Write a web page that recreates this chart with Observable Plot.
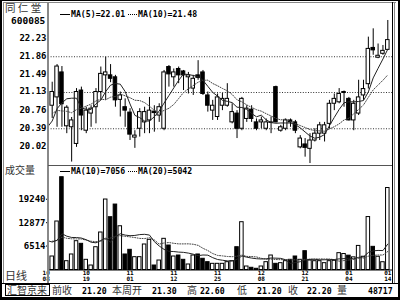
<!DOCTYPE html>
<html><head><meta charset="utf-8">
<script src="https://cdn.jsdelivr.net/npm/d3@7"></script>
<script src="https://cdn.jsdelivr.net/npm/@observablehq/plot@0.6"></script>
<style>
html,body{margin:0;padding:0;background:#fff}
#wrap{position:relative;width:400px;height:300px;overflow:hidden;background:#fff}
#wrap > div{position:absolute}
.t{white-space:pre;line-height:1}
.cjk{font-family:"Noto Sans CJK SC",sans-serif;color:#333}
.num{font-family:"DejaVu Sans Mono",monospace;font-weight:bold;color:#000}
</style></head>
<body><div id="wrap"></div>
<script>
// ---- data ----
const stockName = "同仁堂";
const stockCode = "600085";
const dates = ["10-08","10-11","10-12","10-13","10-14","10-15","10-18","10-19","10-20","10-21","10-22","10-25","10-26","10-27","10-28","10-29",
"11-01","11-02","11-03","11-04","11-05","11-08","11-09","11-10","11-11","11-12","11-15","11-16","11-17","11-18","11-19","11-22","11-23","11-24","11-25","11-26","11-29","11-30",
"12-01","12-02","12-03","12-06","12-07","12-08","12-09","12-10","12-13","12-14","12-15","12-16","12-17","12-20","12-21","12-22","12-23","12-24","12-27","12-28","12-29","12-30","12-31",
"01-04","01-05","01-06","01-07","01-10","01-11","01-12","01-13","01-14"];
const open = [20.86,21.03,21.54,20.44,20.42,20.08,21.17,20.35,20.70,20.83,
21.14,21.48,21.48,21.44,20.98,20.83,20.72,20.21,20.39,20.52,
20.56,20.74,20.66,20.39,21.65,21.44,21.61,21.56,21.44,21.21,
21.48,21.54,21.07,20.76,20.63,20.86,20.86,20.52,20.70,20.39,
20.59,20.78,20.52,20.52,20.39,20.51,21.24,20.35,20.39,20.56,
20.52,20.01,20.07,19.98,20.15,20.29,20.29,20.49,20.90,20.93,
21.12,21.00,20.56,20.70,21.07,21.30,22.04,21.84,21.92,22.00];
const high = [21.34,21.70,21.66,20.86,20.62,21.21,21.24,20.83,20.86,21.21,
21.65,21.85,21.70,21.48,21.14,21.00,20.80,20.35,20.80,20.83,
21.03,20.86,20.90,21.58,21.68,21.61,21.65,21.58,21.54,21.48,
21.78,21.58,21.14,20.97,21.10,21.11,21.31,20.90,20.76,21.03,
20.86,20.86,20.59,20.63,20.59,20.63,21.26,20.46,20.59,20.59,
20.56,20.25,20.19,20.29,20.39,20.52,20.52,20.97,21.10,21.21,
21.16,21.03,20.97,21.38,21.38,22.26,22.43,22.12,22.09,22.60];
const low = [20.60,20.42,20.42,20.29,19.71,20.01,20.35,20.29,20.42,20.49,
20.97,20.97,21.33,20.83,20.63,20.42,20.15,19.99,20.22,20.29,
20.29,20.32,20.52,20.35,21.24,21.24,21.31,21.17,21.10,21.07,
21.38,21.07,20.73,20.56,20.56,20.76,20.83,20.49,20.19,20.35,
20.52,20.52,20.35,20.39,20.35,20.29,20.51,20.32,20.35,20.42,
20.29,19.98,19.81,19.68,20.12,20.15,20.12,20.39,20.76,20.90,
20.83,20.55,20.35,20.66,20.97,21.20,21.89,21.82,21.89,21.99];
const close = [21.14,21.66,20.89,20.82,20.56,21.14,20.66,20.76,20.80,21.14,
21.51,21.54,21.41,20.97,21.07,20.76,20.27,20.25,20.73,20.73,
20.76,20.71,20.83,21.54,21.50,21.54,21.48,21.48,21.48,21.41,
21.43,21.10,20.86,20.86,21.03,21.00,21.00,20.73,20.39,21.00,
20.80,20.59,20.39,20.56,20.52,20.52,20.52,20.42,20.56,20.52,
20.35,20.19,20.00,20.15,20.29,20.46,20.46,20.90,21.00,21.10,
21.14,20.56,20.90,21.03,21.20,22.02,21.99,21.88,21.98,22.20];
const volume = [3670,13190,25240,2400,4220,7840,7120,2770,1220,6200,
10200,19170,14360,17800,11900,4220,5490,3490,3490,6940,
8210,1220,2580,8480,6660,3670,3940,2770,1500,3940,
4220,3050,2130,1680,1680,1680,2130,2400,6200,13000,
950,600,330,950,2130,3940,1680,1860,2400,2770,
3670,2770,5120,2580,2400,2400,1860,2400,2500,4580,
4350,3900,3440,6550,3603,14400,6300,3600,2117,22300];
// closes / volumes just before the window (estimated from where the MA lines enter)
const priorCloses = [21.00,21.00,20.90,20.85,20.50,20.40,20.30,20.40,20.50];
const priorVolumes = [8200,7600,9100,6900,8400,7800,8800,7200,8600,7900,8300,7500,9000,7700,8100,8500,7300,8000,7900];
const priceTicks = [22.23,21.86,21.49,21.13,20.76,20.39,20.02];
const priceGrid = [21.86,21.13,20.39];
const volTicks = [19240,12877,6514];
const dateLabels = ["10-08","10-19","11-01","11-12","11-25","12-08","12-21","01-04","01-14"];
const priceLegend = ["MA(5)=22.01","MA(10)=21.48"];
const volLegend = ["MA(10)=7056","MA(20)=5042"];
const footerLabels = ["前收","本周开","高","低","收","量"];
const footerValues = ["21.20","21.30","22.60","21.20","22.20","48717"];
const brand = "汇智京来";

// ---- build ----
const wrap = document.getElementById("wrap");
const candles = dates.map((d,i)=>({i, d, o:open[i], h:high[i], l:low[i], c:close[i], v:volume[i], up: close[i] >= open[i]}));
const ups = candles.filter(d=>d.up), downs = candles.filter(d=>!d.up);
function movingAvg(prior, vals, n){
  const all = prior.concat(vals), out = [];
  for (let k = prior.length - 1; k < all.length; k++) {
    if (k - n + 1 < 0) continue;
    let s = 0; for (let j = k - n + 1; j <= k; j++) s += all[j];
    out.push({i: k - prior.length, v: s / n});
  }
  return out;
}
const ma5 = movingAvg(priorCloses, close, 5), ma10 = movingAvg(priorCloses, close, 10);
const vma10 = movingAvg(priorVolumes, volume, 10), vma20 = movingAvg(priorVolumes, volume, 20);
const xDomain = [-0.76, 70.17];
const hw = 0.36;
const fontMono = {fontFamily:"DejaVu Sans Mono", fontWeight:"bold"};
const dateIdx = dateLabels.map(l=>dates.indexOf(l));
const fmtDate = i=>dates[i].replace("-","\n");

const price = Plot.plot({
  width: 400, height: 165, marginLeft: 48, marginRight: 7, marginTop: 5, marginBottom: 0,
  style: {background:"transparent", fontFamily:"DejaVu Sans Mono", fontWeight:"bold", fontSize:"9px", color:"#000"},
  x: {domain: xDomain, axis: null, label: null},
  y: {domain: [19.64, 22.906], axis: null, label: null},
  marks: [
    Plot.ruleY(priceGrid, {stroke:"#333", strokeDasharray:"1,1.6", strokeWidth:1}),
    Plot.ruleX(candles, {x:"i", y1:"l", y2:"h", stroke:"#000", strokeWidth:1}),
    Plot.rect(ups, {x1:d=>d.i-hw, x2:d=>d.i+hw, y1:"o", y2:"c", fill:"#fff", stroke:"#000", strokeWidth:1}),
    Plot.rect(downs, {x1:d=>d.i-hw, x2:d=>d.i+hw, y1:"o", y2:"c", fill:"#000", stroke:"#000", strokeWidth:1}),
    Plot.line(ma10, {x:"i", y:"v", stroke:"#444", strokeWidth:1, strokeDasharray:"1,1.5", clip:true}),
    Plot.line(ma5, {x:"i", y:"v", stroke:"#222", strokeWidth:1, clip:true}),
    Plot.axisY(priceTicks, {anchor:"left", label:null, tickSize:0, tickPadding:2, dy:-1, fontSize:9, ...fontMono, tickFormat:d=>d.toFixed(2)})
  ]
});
price.style.position = "absolute"; price.style.left = "0px"; price.style.top = "0px";

const vol = Plot.plot({
  width: 400, height: 118, marginLeft: 48, marginRight: 7, marginTop: 0, marginBottom: 13.5,
  style: {background:"transparent", fontFamily:"DejaVu Sans Mono", fontWeight:"bold", fontSize:"9px", color:"#000"},
  x: {domain: xDomain, axis: null, label: null},
  y: {domain: [0, 28424], axis: null, label: null},
  marks: [
    Plot.rect(ups, {x1:d=>d.i-hw, x2:d=>d.i+hw, y1:()=>0, y2:"v", fill:"#fff", stroke:"#000", strokeWidth:1}),
    Plot.rect(downs, {x1:d=>d.i-hw, x2:d=>d.i+hw, y1:()=>0, y2:"v", fill:"#000", stroke:"#000", strokeWidth:1}),
    Plot.line(vma20, {x:"i", y:"v", stroke:"#444", strokeWidth:1, strokeDasharray:"1,1.5", clip:true}),
    Plot.line(vma10, {x:"i", y:"v", stroke:"#222", strokeWidth:1, clip:true}),
    Plot.ruleY([0], {stroke:"#000"}),
    Plot.axisY(volTicks, {anchor:"left", label:null, tickSize:2, tickPadding:1, fontSize:9, ...fontMono, tickFormat:d=>String(d)}),
    Plot.axisX(dateIdx.slice(0,1), {anchor:"bottom", label:null, tickSize:0, tickPadding:0, fontSize:6, lineHeight:1.12, ...fontMono, tickFormat:fmtDate, dx:-6}),
    Plot.axisX(dateIdx.slice(1), {anchor:"bottom", label:null, tickSize:0, tickPadding:0, fontSize:6, lineHeight:1.12, ...fontMono, tickFormat:fmtDate})
  ]
});
vol.style.position = "absolute"; vol.style.left = "0px"; vol.style.top = "165px";

function box(l,t,w,h,css){const d=document.createElement("div");d.style.cssText=`left:${l}px;top:${t}px;width:${w}px;height:${h}px;${css||""}`;wrap.appendChild(d);return d;}
function txt(s,l,t,cls,css){const d=document.createElement("div");d.className="t "+cls;d.textContent=s;d.style.cssText=`left:${l}px;top:${t}px;${css||""}`;wrap.appendChild(d);return d;}

wrap.appendChild(price); wrap.appendChild(vol);

// frame
box(0,0,400,1,"background:#000");
box(0,0,2,300,"background:#000");
box(398,0,2,300,"background:#000");
box(0,297,400,3,"background:#000");
box(3,2,1,281,"background:#888");
box(3,2,393,1,"background:#888");
box(47,2,2,281,"background:#888");
box(392,2,1,281,"background:#000");
box(394,2,1,281,"background:#888");
box(48,165,344,1,"background:#555");
box(2,283,396,1,"background:#000");
box(5,284,45,12,"border:1px solid #000;box-sizing:border-box");

// left texts
txt(stockName.split("").join(" "),5,3,"cjk","font-size:10.5px");
txt(stockCode,11,16,"num","font-size:9.5px");
txt("成交量",5,165,"cjk","font-size:10px");
txt("日线",5,270,"cjk","font-size:11px");

// legends
box(60,14,10,1,"background:#000");
txt(priceLegend[0],71,10,"num","font-size:8.2px");
box(128,14,9,1,"border-top:1px dotted #000;box-sizing:border-box");
txt(priceLegend[1],138,10,"num","font-size:8.2px");
box(60,171,10,1,"background:#000");
txt(volLegend[0],71,167,"num","font-size:8.2px");
box(128,171,9,1,"border-top:1px dotted #000;box-sizing:border-box");
txt(volLegend[1],138,167,"num","font-size:8.2px");

// footer
txt(brand,7,285,"cjk","font-size:10px");
const fLabX = [52,112,187,237,288,337], fValX = [82,152,200,257,307,368];
footerLabels.forEach((s,k)=>txt(s,fLabX[k],285,"cjk","font-size:10px"));
footerValues.forEach((s,k)=>txt(s,fValX[k],287,"num","font-size:8.2px"));
</script></body></html>
